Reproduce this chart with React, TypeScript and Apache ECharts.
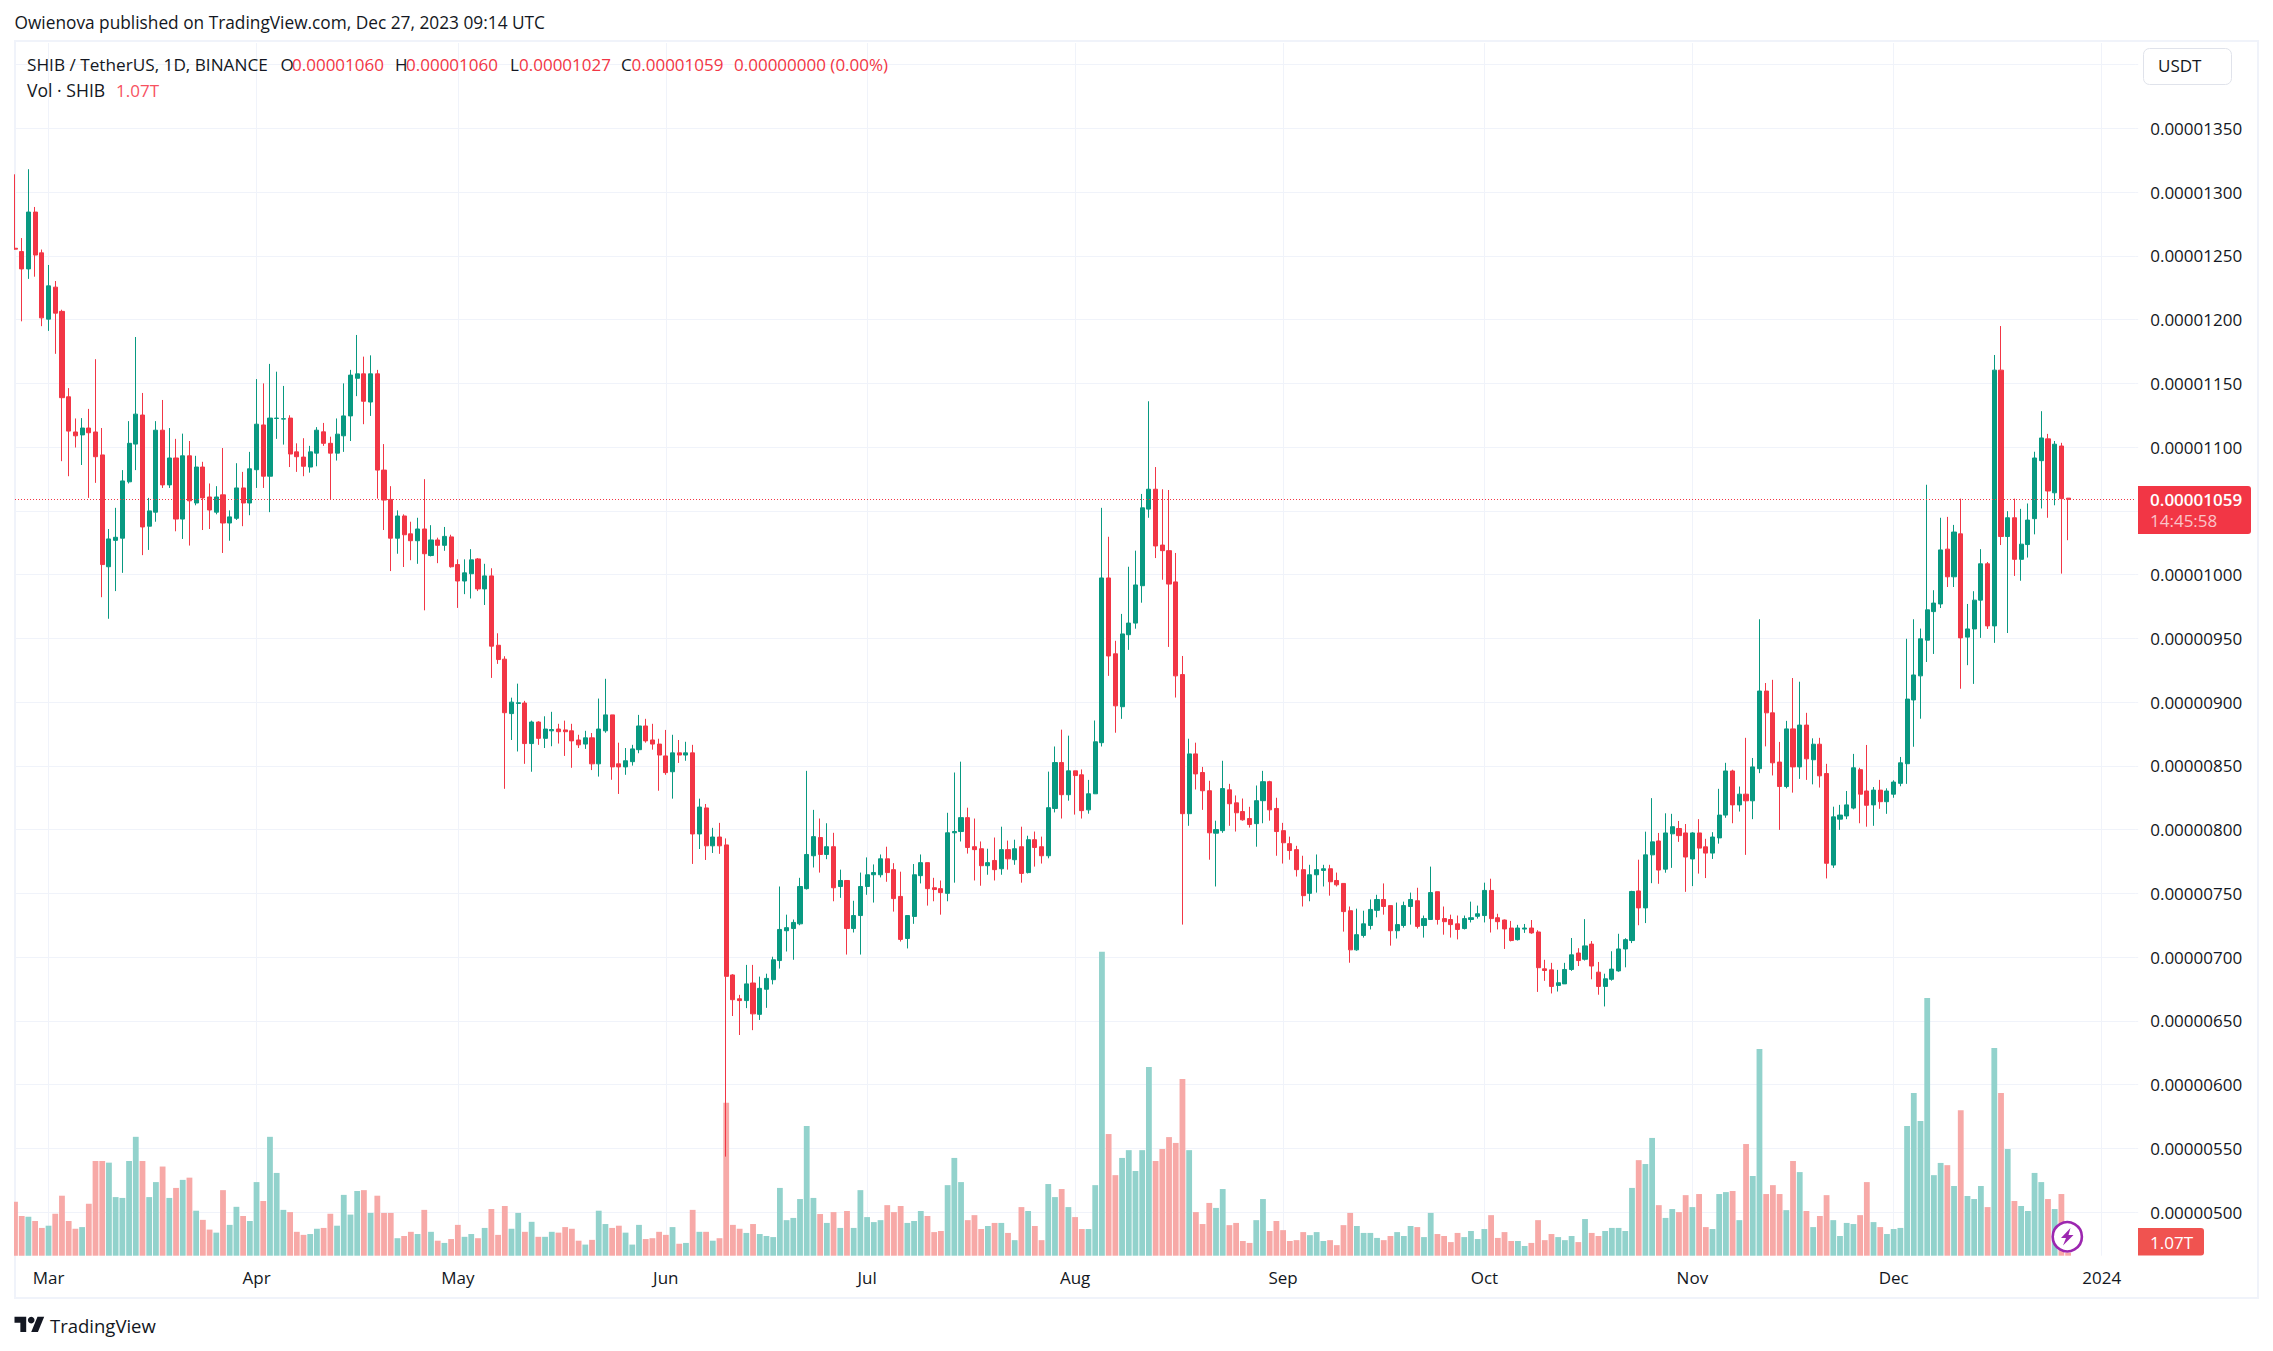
import React, { useEffect, useRef } from "react";
import * as echarts from "echarts";

// All prices are in units of 0.00000001 USDT; volumes in trillions.
const opens = [
  1256,1253.4,1239.8,1284.4,1252.4,1200.4,1225.5,1206.5,1139.5,1111.9,
  1109.6,1115,1111.9,1093.9,1006.2,1026.9,1028.6,1072.8,1102.4,1125.2,
  1038,1049,1113.3,1070.4,1091.5,1043.6,1093.2,1056.2,1084.4,1060.9,
  1049,1062.6,1040.5,1044.2,1068,1056.2,1082.3,1117.4,1077.2,1122.5,
  1122,1122.8,1096.3,1092.2,1084.4,1095.3,1112,1103,1095.3,1108.9,
  1124.5,1154,1157.5,1135.4,1157.5,1082,1059,1028.6,1046,1032,
  1026.6,1035.8,1015,1027.2,1023,1029.6,1007.9,995,1000.7,1012.3,
  988.8,999,944.6,933.7,891,899,899.3,867.5,884.4,871.6,
  877.5,878.9,878.2,877.5,870.3,867.1,872,851.6,877.5,890,
  851.6,849.2,853.3,862.7,881.3,870.3,867.1,857.8,845.4,860.2,
  858.5,860.2,796.6,817,787.3,794.2,788,686,667.3,665.9,
  679.7,655.1,674.8,682.3,697.3,720.7,722.4,726.1,753.7,779.5,
  793.8,780.5,786.6,755.4,760.1,722.4,732.6,755.4,764.6,764.6,
  777.1,768.6,747.6,714.6,731.9,763.9,774.1,754.4,753.7,750,
  797.5,798.5,809.4,786.6,785,771.7,775.8,769.3,784.3,776.4,
  786.6,766.3,792.1,786.6,779.5,816.6,852.6,827.4,846.1,843,
  815.5,828.1,868.2,997.4,937.9,896.4,952.9,962,991.3,1051.4,
  1067,1023.2,1018.8,994.3,921.6,812.5,859.4,844.8,830.5,797.2,
  799.2,831.2,821,814.2,808.7,804.7,822.7,837.6,816.6,799.2,
  789,784.3,768.6,750,764.6,768,769.3,760.1,757.8,736.4,
  705.7,717,724.8,736.7,745.2,740.4,720.7,724.8,739.7,744.2,
  724.8,729.5,751.3,730.2,729.5,726.1,722.4,729.5,732,732.6,
  752.3,730.9,729.1,722.8,713.7,722,722.8,719.7,690.8,690,
  677.8,679,690.3,703.2,698.3,710.2,688.2,677,682.6,689.2,
  706.4,713,751.9,738.6,780.2,791.1,769,796.7,800.9,797.4,
  777,797.4,786.5,781.6,793.5,811.4,846,819.4,827.8,822.6,
  847.8,908.7,891.6,853,833.8,879,849.2,882,854.8,867,
  844,772.2,808.2,810.7,816.9,847,830.3,819.4,831,821.9,
  827.8,836.3,851.7,901.7,920.6,948.6,971,977,1020,998.3,
  1032,951,957.4,980,1008.5,959.8,1160.4,1029.9,1044.6,1012,
  1023.6,1043.9,1089.4,1106.5,1064.2,1100.9,1060,
];
const closes = [
  1255.3,1239.8,1284.4,1250.7,1201.4,1226.5,1205.1,1138.8,1112.6,1108.9,
  1115,1111.3,1092.5,1007.9,1028,1029.3,1073.5,1103,1125.9,1037.4,
  1050,1113.3,1070.4,1091.5,1043.6,1093.2,1057.9,1084.4,1060.2,1050.7,
  1060.9,1040.5,1045.3,1068,1056.2,1083,1118,1077.2,1122.8,1122.8,
  1122.3,1094.6,1092.5,1085,1096.3,1113.3,1103,1095.3,1110.2,1124.5,
  1156.5,1157.5,1136,1157.5,1082,1058.5,1028.6,1046,1031.3,1026.6,
  1035.8,1016.4,1027.2,1023,1030,1006.2,995,1001.4,1011.6,988.8,
  999,943.9,933.4,891.7,900,899.5,867.5,884.4,871.6,878.9,
  878.5,876.8,876.8,869.6,866.5,872,851.6,878.9,890,849.2,
  849.2,854,863.3,881.3,869.6,867.1,858.5,844.7,860.2,858.5,
  860.2,796.6,817.7,787.3,794.2,787.3,684.9,666.6,665.9,679,
  655.5,675.5,683.3,697.9,721.7,723.1,727.2,755.4,780.5,794.5,
  780.5,786.6,754.4,760.1,722.4,732.6,755.4,764.6,766.3,777.1,
  766.3,745.9,713.9,732.6,764.6,774.1,753.7,753,750.6,797.5,
  798.5,809.4,786,784.3,771.7,774.1,768.6,784.3,777.1,785,
  765.6,792.1,786,779.5,817.2,852.6,827.4,846.1,842.4,814.9,
  828.1,868.9,997.4,936.2,897.1,953.5,962,991.9,1052.4,1067,
  1022.5,1018.8,992.6,920.6,812.5,859.4,843.7,830.5,797.5,800,
  832.2,820.3,813.2,807.7,804,822.7,837.6,815.5,798.5,789.7,
  783.6,768.6,748.2,764.6,768.6,769.3,759.1,756.7,735.7,705.7,
  717.6,726.1,737.4,745.2,739.7,720.7,725.5,740.4,745.2,724.1,
  730.2,750.6,729.5,727.8,725.5,721.7,730.2,730.9,734,752.3,
  730.2,727.8,722.1,713,722.8,722.8,719,691.7,689.5,677,
  679.9,690.3,701.8,697.3,708.8,693,677,683,690.6,706.4,
  713.7,751.5,738.6,780.2,790.4,768.3,797.4,802.3,795.3,778.5,
  797.4,785.5,781.6,794.2,811.4,846,819.4,827.8,822.6,849.2,
  908.7,891.6,852.4,833.8,879,849.2,882,855.5,867,842.2,
  773.6,810,811.4,819.4,848.5,827.8,819.1,831,821.9,830.3,
  837.3,852.4,902.4,921.3,949.7,972.4,977.7,1019.4,998.3,1033.4,
  950.4,957.4,980,1008.5,959.8,1160.4,1029.9,1044.6,1012,1023.9,
  1042.8,1091.5,1107.2,1065.6,1102.3,1059.6,1059,
];
const highs = [
  1314,1264,1318,1288.4,1255,1242.9,1230.3,1207.8,1146.3,1122.5,
  1122.8,1130,1169,1115,1035.8,1052.4,1082,1120.4,1186.4,1142.5,
  1060.2,1120.4,1137,1115,1106.5,1110.6,1104.8,1093.2,1088.5,1071.5,
  1069.4,1099.3,1050.4,1087.4,1080.6,1096.3,1153.4,1150,1165.3,1159.2,
  1148,1125,1103,1107,1101,1115.7,1119,1108.2,1122.5,1150,
  1160.6,1188,1171,1172,1160.6,1102.4,1069.4,1050.4,1047.3,1041.5,
  1044.6,1074.9,1038.8,1029,1037.4,1031.3,1012,1012,1020,1013,
  1008.5,1005,954,936,903.5,914.5,901,885.5,885,888.9,
  892.4,883,885.5,883,874.4,877.5,875.8,902.8,918.3,890,
  868.2,864,866.5,890,886.9,883,871.3,878.2,874.4,870.3,
  868.9,866.5,824.3,820.1,801.4,805.3,793.1,686.6,670.4,693.9,
  693.9,684.7,687,700.3,755.4,733.3,729.5,762.2,846.1,815.5,
  808.7,805,797.5,768.6,760.1,744.2,766.3,778.2,772.7,780.5,
  786.6,773.7,767,732.6,773,780.5,774.1,762.2,760.1,813.2,
  844.8,853.3,817.2,808.7,790.7,785,793.8,802.3,791.4,792.1,
  802.3,795.2,798.5,794.5,845.5,865.2,878.4,873.7,846.1,847.2,
  839,885.6,1052.4,1029.7,948.1,969.2,1006.2,1018.8,1063.3,1136,
  1084.4,1067,1066.4,1017,936.2,871.3,868.2,849.2,838.3,807,
  854,835.9,826.8,824.4,817.9,834.6,846.1,838.3,825,805.3,
  794.5,787.3,779.5,772.4,780.5,772.4,772.4,766.3,757.8,739.7,
  738,736.4,745.2,748.9,757.8,740.4,742.8,743.5,750.6,754.4,
  732.6,771,751.3,739.7,733.3,732.6,732.6,743.5,740.4,758.4,
  761.5,734,729.5,728.4,725.3,726,729.1,721.1,697.9,695.5,
  690,695.5,715,707,729.8,712.6,696.2,687,704.6,718.3,
  714.8,752,776.4,798.4,824.7,797.4,812.8,812.4,806.8,804.4,
  798,808.2,792.8,798,832,852.4,847,833.8,872,856.2,
  965,915,917.5,868.8,885.3,918.9,916,891.6,871.6,872,
  851.6,818,819.4,830.3,859.4,848.5,866.4,833.4,839,832.4,
  838.7,857,949.7,965,957.7,1070.5,987.8,1044.6,1045.3,1039,
  1059.6,977,987,1020,1009.9,1172.3,1195,1049.8,1059.6,1051.6,
  1055.8,1096.4,1128.2,1110.4,1104.8,1103.4,1060,
];
const lows = [
  1255,1198.7,1232,1233.7,1194.9,1191.2,1173.2,1089,1077.2,1099.7,
  1086,1060.2,1072,982.3,965.4,987.1,1001.4,1071.5,1082,1015.3,
  1019.4,1041.5,1068,1068,1034,1028,1022.8,1054.4,1035,1035.8,
  1047.3,1017,1026.6,1042.9,1038,1046.6,1068,1068,1049,1106.5,
  1102,1084.4,1080.6,1077.2,1080,1085,1101,1058.9,1089.5,1096.3,
  1104.8,1140,1118,1124.5,1059.6,1035,1002.8,1016.4,1006,1011.3,
  1008.5,972,1014.3,1009,1018.7,1005.5,973.9,984.7,981.3,987.1,
  976.2,919,930,832,870.3,861.3,851.6,845.4,866.5,864,
  865.4,867.5,857.8,848.5,864,863.3,846.7,841.6,876,839.1,
  828,843,850.2,859.9,868.2,862.7,830.5,843,824.3,852.3,
  854,773.1,784.8,776.2,781.7,781,543.5,653.8,638.9,660,
  642.7,650.7,660.2,678.6,691,704.4,697.9,725,753,770.3,
  766.3,776.8,743.8,746.5,702,719.3,702,748.9,742.8,762.5,
  759.1,735.7,712.2,706.8,726.1,757.8,740.4,743.8,733.3,743.8,
  758.4,790.7,781.2,760.1,756,764.6,760.1,764.6,768.6,772.4,
  758.4,765.6,771,773.4,777.5,813.5,808.7,822.7,811.8,808.7,
  812.5,828,865.2,920.6,876,886.9,941,957.6,978,1044.6,
  1013,996,943.3,903.6,725.5,803,831.5,815.5,776.4,755.4,
  797.5,803,798.5,807,801.6,786.6,805,807,779.5,773.4,
  776.4,763.2,739.7,743.8,750.6,755.4,748.2,755.4,720,695.6,
  705,715.3,721.7,731.2,733.3,709,714.6,723.1,725.5,722.4,
  715.3,729.5,725.5,717.6,715.3,713.9,721.7,727.2,730.2,727.2,
  719.3,721.7,706.4,712.3,713,719,718.3,672.7,681.4,671.5,
  673,679,689.2,693,697.3,682.6,670.5,661.3,681.5,688.5,
  692,711,725,726.7,758,757.5,766.2,770,790.4,751.2,
  755.7,765.5,762,777,789,809.3,805,814.2,780.2,808.2,
  844.3,865.3,842.5,799.8,832.4,829,839.8,839,835.5,833,
  761.7,770,799.8,808.2,815.9,805,802.3,803,816.3,812.4,
  825,834,835.9,865,887,931.5,937.8,973.8,990.3,990.3,
  910.5,929,914.3,950.4,957.4,946.5,1023.2,954.2,999,995.2,
  1013.4,1031.6,1051.9,1044.6,1054.4,1000.8,1027,
];
const volumes = [
  19.4,14.3,14,12.5,10,10.8,15.1,21.6,12.5,9.7,
  10.3,18.7,34.1,34.1,33.5,21.1,20.8,34.1,42.8,34.1,
  21.1,26.5,32.1,20.8,24.4,27.3,28.1,16.2,12.9,9.4,
  8.3,23.6,11.1,17.6,14.3,12.5,26.5,19.7,42.8,29.8,
  16.5,15.7,8.6,7.5,7.8,9.7,10,15.1,10.8,21.9,
  14.8,23.3,23.6,15.4,21.6,15.4,15.4,6.3,7.1,8.6,
  7.8,16.5,8.6,5.4,4.6,6,11.1,6.8,7.8,6.3,
  10,16.8,7.5,17.9,9.7,15.4,8.6,12.2,6.8,6.8,
  8.6,8.3,10.3,9.7,5.4,4,5.7,16.2,11.4,10,
  10.8,8.3,4,11.1,6,6.3,8.6,7.5,10.3,4.3,
  4.6,16.5,8.6,8.6,5.4,6.3,55.1,11.1,9.7,8.2,
  11.4,7.8,7.1,6.7,24.4,12.8,13.6,20.4,46.7,20.8,
  15,11.8,15.7,10,16.1,10,23.6,13.9,12.1,12.8,
  18.2,15.7,17.9,11.8,12.5,16.1,14.3,8.5,8.9,25.4,
  35.2,26.5,12.8,14.6,9.6,10.7,11.8,11.8,8.2,5.6,
  17.5,16.1,10.7,5.6,25.8,21.1,24,17.5,13.9,9.6,
  9.6,25.4,109.4,43.8,29,35.2,38,30.5,38,67.9,
  34.1,38.4,42.7,40.6,63.6,38,15.7,11.4,19,17.2,
  24,11,11.8,5.3,4.6,12.8,20.4,8.9,12.5,9.2,
  5.3,5.6,8.5,7.4,8.5,5.3,5.6,3.8,11,15.4,
  10.7,8.2,8.2,6.4,5.6,7.1,8.5,7.1,10.7,10.3,
  6.7,15.4,7.8,7.1,4.9,8.2,6.7,8.9,6,9.6,
  14.6,6.4,8.5,5.3,5.3,3.5,4.6,12.8,5.6,7.8,
  6.7,5.6,7.1,4.9,13.2,8.2,7.1,8.9,10,10,
  8.9,24.4,34.4,33,42.4,18.2,13.6,16.8,15.7,21.8,
  17.5,22.2,10.3,9.6,22.2,22.9,23.3,12.8,40.2,28.7,
  74.4,22.2,25.4,22.2,16.4,34.1,30.1,16.1,10.3,14.3,
  21.8,12.8,7.1,11.8,11.4,14.6,26.5,12.1,10.3,7.8,
  9.6,10,46.7,58.6,48.5,92.8,29,33.4,32.6,25.1,
  52.4,21.5,20.4,25.1,17.5,74.8,58.6,38.4,19.7,17.9,
  16.1,29.8,26.5,20.4,16.8,22.2,1.07,
];
const priceGridValues = [500,550,600,650,700,750,800,850,900,950,1000,1050,1100,1150,1200,1250,1300,1350,1400];
// 1050 and 1400 sit behind the price tag and the USDT button in the reference.
const priceLabelValues = [500,550,600,650,700,750,800,850,900,950,1000,1100,1150,1200,1250,1300,1350];
const monthLabels = ["Jan","Feb","Mar","Apr","May","Jun","Jul","Aug","Sep","Oct","Nov","Dec"];
const lastClose = 1059;

const UP = "#089981";
const DOWN = "#F23645";
const UP_VOL = "#92D2CC";
const DOWN_VOL = "#F7A9A7";
const GRID = "#F0F3FA";
const INK = "#131722";
const FONT = '"Open Sans", sans-serif';

// Daily categories from 24 Feb 2023, running on a few days past the last candle.
const dates: string[] = [];
for (let i = 0; i < 317; i++) {
  const d = new Date(Date.UTC(2023, 1, 24 + i));
  dates.push(d.toISOString().slice(0, 10));
}
const isMonthStart = (_: number, value: string) => value.slice(8) === "01";

function text(str: string, x: number, y: number, fill = INK, size = 17, extra: any = {}) {
  return {
    type: "text",
    x,
    y,
    z: 20,
    silent: true,
    style: { text: str, fill, font: `${extra.weight || 400} ${size}px ${FONT}`, verticalAlign: "middle", align: extra.align || "left" },
  };
}

export default function App() {
  const ref = useRef<HTMLDivElement>(null);
  useEffect(() => {
    const chart = echarts.init(ref.current!, undefined, { renderer: "svg" });
    chart.setOption({
      animation: false,
      backgroundColor: "#ffffff",
      grid: { left: 15, top: 43, width: 2120.2, height: 1212.7, containLabel: false },
      xAxis: {
        type: "category",
        data: dates,
        boundaryGap: false,
        axisLine: { show: false },
        axisTick: { show: false },
        splitLine: { show: true, interval: isMonthStart, lineStyle: { color: GRID, width: 1 } },
        axisLabel: {
          interval: isMonthStart,
          margin: 13,
          color: INK,
          fontFamily: FONT,
          fontSize: 17,
          hideOverlap: false,
          formatter: (v: string) => (v.slice(5, 7) === "01" ? v.slice(0, 4) : monthLabels[Number(v.slice(5, 7)) - 1]),
        },
      },
      yAxis: [
        {
          type: "value",
          position: "right",
          min: 465.8,
          max: 1417,
          axisLine: { show: false },
          axisTick: { show: true, length: 3, customValues: priceGridValues, lineStyle: { color: GRID } },
          splitLine: { show: true, lineStyle: { color: GRID, width: 1 } },
          axisLabel: {
            customValues: priceLabelValues,
            margin: 15,
            color: INK,
            fontFamily: FONT,
            fontSize: 17,
            formatter: (v: number) => (v / 1e8).toFixed(8),
          },
        },
        { type: "value", min: 0, max: 436.6, show: false, splitLine: { show: false } },
      ],
      series: [
        {
          type: "bar",
          yAxisIndex: 1,
          barWidth: 5.8,
          silent: true,
          data: volumes.map((v, i) => ({
            value: v,
            itemStyle: { color: closes[i] >= opens[i] ? UP_VOL : DOWN_VOL },
          })),
        },
        {
          type: "candlestick",
          yAxisIndex: 0,
          barWidth: 4.6,
          silent: true,
          itemStyle: { color: UP, color0: DOWN, borderColor: UP, borderColor0: DOWN, borderWidth: 1 },
          data: opens.map((o, i) => [o, closes[i], lows[i], highs[i]]),
          markLine: {
            silent: true,
            symbol: ["none", "none"],
            label: { show: false },
            lineStyle: { color: DOWN, type: [1, 2], width: 1 },
            data: [{ yAxis: lastClose }],
          },
        },
      ],
      graphic: [
        { type: "rect", z: 1, silent: true, shape: { x: 15, y: 41, width: 2243, height: 1257 }, style: { fill: "none", stroke: GRID, lineWidth: 2 } },
        { type: "rect", z: 5, silent: true, shape: { x: 0, y: 41, width: 14, height: 1257 }, style: { fill: "#ffffff" } },
        text("Owienova published on TradingView.com, Dec 27, 2023 09:14 UTC", 14.5, 22.5, INK, 17.3),
        text("SHIB / TetherUS, 1D, BINANCE", 27, 64, INK, 17.2),
        text("O", 280.5, 64),
        text("0.00001060", 292, 64, DOWN),
        text("H", 395, 64),
        text("0.00001060", 406, 64, DOWN),
        text("L", 510, 64),
        text("0.00001027", 519, 64, DOWN),
        text("C", 621, 64),
        text("0.00001059", 631.5, 64, DOWN),
        text("0.00000000 (0.00%)", 734, 64, DOWN),
        text("Vol · SHIB", 27, 90, INK, 17.6),
        text("1.07T", 116, 90, "#F7525F"),
        { type: "rect", z: 15, silent: true, shape: { x: 2143.5, y: 48.5, width: 88, height: 36, r: 6 }, style: { fill: "#fff", stroke: "#E0E3EB", lineWidth: 1 } },
        text("USDT", 2158, 65),
        { type: "rect", z: 15, silent: true, shape: { x: 2138, y: 486, width: 113, height: 48, r: [0, 3, 3, 0] }, style: { fill: DOWN } },
        text("0.00001059", 2150, 499.5, "#FFFFFF", 17, { weight: 600 }),
        text("14:45:58", 2150, 520.5, "#FAC3C8"),
        { type: "rect", z: 15, silent: true, shape: { x: 2138, y: 1228, width: 66, height: 27.5, r: [0, 3, 3, 0] }, style: { fill: "#F05350" } },
        text("1.07T", 2150, 1242, "#FFFFFF"),
        { type: "circle", z: 15, silent: true, shape: { cx: 2067.3, cy: 1236.7, r: 14.6 }, style: { fill: "#fff", stroke: "#9C27B0", lineWidth: 2.6 } },
        {
          type: "polygon",
          z: 16,
          silent: true,
          shape: { points: [[2070.5, 1228], [2061, 1238], [2066, 1238], [2063, 1245.5], [2073.5, 1235], [2068.5, 1235]] },
          style: { fill: "#9C27B0" },
        },
        {
          type: "group",
          x: 14.5,
          y: 1313.3,
          scaleX: 0.836,
          scaleY: 0.85,
          children: [
            { type: "polygon", silent: true, shape: { points: [[14, 22], [7, 22], [7, 11], [0, 11], [0, 4], [14, 4]] }, style: { fill: INK } },
            { type: "polygon", silent: true, shape: { points: [[28, 22], [20, 22], [27.5, 4], [35.5, 4]] }, style: { fill: INK } },
            { type: "circle", silent: true, shape: { cx: 20, cy: 8, r: 4 }, style: { fill: INK } },
          ],
        },
        text("TradingView", 50, 1325.5, INK, 18.5, { weight: 500 }),
      ],
    });
    return () => chart.dispose();
  }, []);
  return <div ref={ref} style={{ position: "absolute", left: 0, top: 0, width: 2273, height: 1351 }} />;
}
